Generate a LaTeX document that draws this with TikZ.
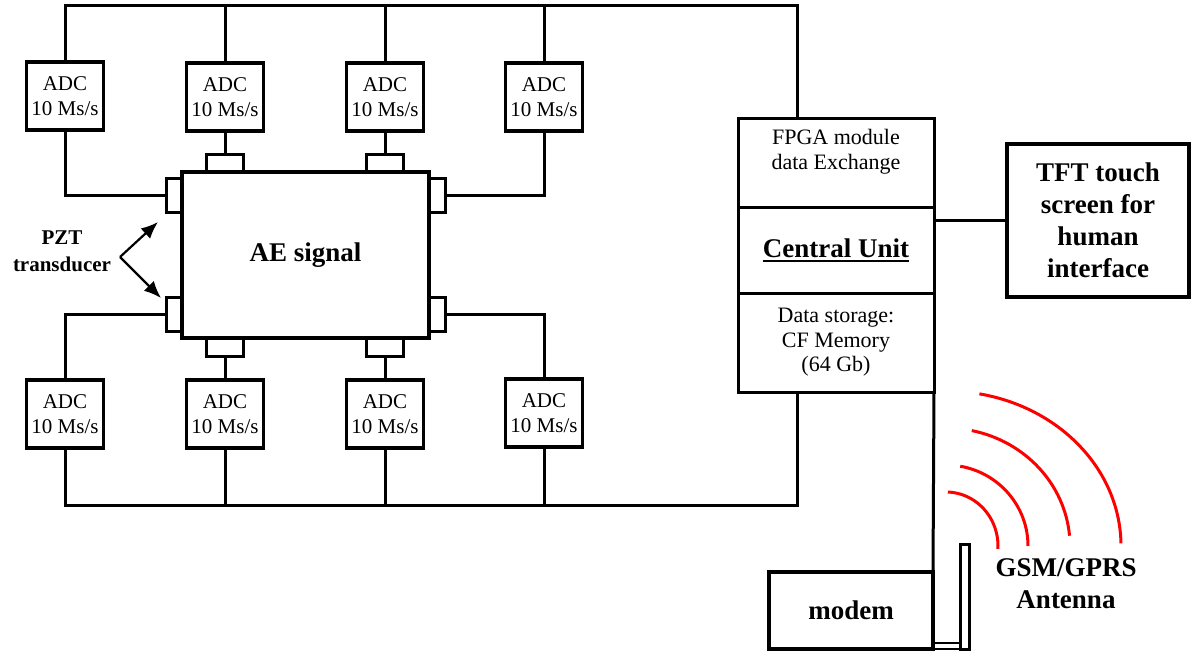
\documentclass[tikz,border=0pt]{standalone}
\usepackage{fontspec}
\setmainfont{Liberation Serif}
\newcommand{\ulinetext}[1]{\leavevmode\setbox0\hbox{#1}\rlap{\vrule height -2.6pt depth 4.6pt width \wd0}\box0}
\usetikzlibrary{arrows.meta,positioning}

\begin{document}
\begin{tikzpicture}[
 x=1pt,y=-1pt,
 every node/.style={font=\fontsize{21}{25}\selectfont,outer sep=0pt},
 adc/.style={draw,line width=3.5pt,align=center,minimum width=77pt,minimum height=68pt,inner sep=0pt},
 tab/.style={draw,line width=3pt,inner sep=0pt},
 htab/.style={tab,minimum width=37pt,minimum height=18pt},
 vtab/.style={tab,minimum width=16pt,minimum height=34pt},
 ctext/.style={font=\fontsize{22}{24.5}\selectfont,align=center},
 unit/.style={draw,line width=3pt,minimum width=196pt,inner sep=0pt,ctext},
 big/.style={font=\fontsize{27}{32}\selectfont\bfseries,align=center},
 wire/.style={line width=3pt},
 wave/.style={red,line width=3pt},
 arr/.style={-{Latex[length=17pt,width=14pt]},line width=2.2pt}
]
\useasboundingbox (0,0) rectangle (1192,653);
% converters above and below the sensor block
\node[adc] (adcA1) at (65,96) {ADC\\10 Ms/s};
\node[adc] (adcA2) at (225,97) {ADC\\10 Ms/s};
\node[adc] (adcA3) at (385,97) {ADC\\10 Ms/s};
\node[adc] (adcA4) at (544,97) {ADC\\10 Ms/s};
\node[adc] (adcB1) at (65,414) {ADC\\10 Ms/s};
\node[adc] (adcB2) at (225,414) {ADC\\10 Ms/s};
\node[adc] (adcB3) at (385,414) {ADC\\10 Ms/s};
\node[adc] (adcB4) at (544,413) {ADC\\10 Ms/s};
% sensor block with its transducers
\node[draw,line width=3.5pt,minimum width=247pt,minimum height=166pt,big] (ae) at (305.5,255) {AE signal};
\node[htab,anchor=south] (tT1) at (adcA2.south |- ae.north) {};
\node[htab,anchor=south] (tT2) at (adcA3.south |- ae.north) {};
\node[htab,anchor=north] (tB1) at (adcB2.north |- ae.south) {};
\node[htab,anchor=north] (tB2) at (adcB3.north |- ae.south) {};
\node[vtab,anchor=east] (tL1) at (ae.west |- 0,195.5) {};
\node[vtab,anchor=east] (tL2) at (ae.west |- 0,314.5) {};
\node[vtab,anchor=west] (tR1) at (ae.east |- 0,195.5) {};
\node[vtab,anchor=west] (tR2) at (ae.east |- 0,314.5) {};
\node[font=\fontsize{21}{27}\selectfont\bfseries,align=center] (pzt) at (62,251) {PZT\\transducer};
\coordinate (pztv) at (120,257);
\coordinate (pztA) at (158,222);
\coordinate (pztB) at (161,298);
% central unit column
\node[unit,minimum height=89pt,label={[ctext,anchor=north,yshift=-8pt]north:{FPGA module\\data Exchange}}] (fpga) at (836,162.5) {};
\node[unit,minimum height=86pt,big] (cu) at (836,250) {\ulinetext{Central Unit}};
\node[unit,minimum height=99pt] (mem) at (836,342.5) {Data storage:\\CF Memory\\(64 Gb)};
\node[draw,line width=3.5pt,big,minimum width=182pt,minimum height=153pt] (tft) at (1098,220.5) {TFT touch\\screen for\\human\\interface};
% modem and antenna
\node[draw,line width=3.5pt,big,minimum width=164pt,minimum height=77pt] (modem) at (851,610.5) {modem};
\node[draw,line width=3pt,minimum width=9pt,minimum height=105pt,inner sep=0pt] (ant) at (964.5,596.5) {};
\node[draw,line width=2.2pt,minimum width=27pt,minimum height=6pt,inner sep=0pt] (feed) at (946.5,646) {};
\node[big] (gsm) at (1066,583.5) {GSM/GPRS\\Antenna};
% connections
\coordinate (busT) at (797,5);
\coordinate (busB) at (797,505);
\draw[wire] (adcA1.north) |- (busT) -- (fpga.north -| busT);
\foreach \n in {2,3,4} \draw[wire] (adcA\n.north) -- (adcA\n.north |- busT);
\draw[wire] (adcB1.south) |- (busB) -- (mem.south -| busB);
\foreach \n in {2,3,4} \draw[wire] (adcB\n.south) -- (adcB\n.south |- busB);
\draw[wire] (adcA1.south) |- (tL1.west);
\draw[wire] (adcA4.south) |- (tR1.east);
\draw[wire] (adcA2.south) -- (tT1.north);
\draw[wire] (adcA3.south) -- (tT2.north);
\draw[wire] (tL2.west) -| (adcB1.north);
\draw[wire] (tR2.east) -| (adcB4.north);
\draw[wire] (tB1.south) -- (adcB2.north);
\draw[wire] (tB2.south) -- (adcB3.north);
\draw[wire] (tft.west) -- (tft.west -| cu.east);
\draw[wire] (mem.south east) -- (modem.north east);
\draw[arr] (pztv) -- (pztA);
\draw[arr] (pztv) -- (pztB);
% radio waves
\foreach \rx/\ry/\s/\e in {52/54/-88/3,82/81/-80/0,124/118/-78/-5,175/155/-79/-1}
  \draw[wave] (946,546) ++({\rx*cos(\s)},{\ry*sin(\s)}) arc[start angle=\s,end angle=\e,x radius=\rx,y radius=\ry];
\end{tikzpicture}
\end{document}
